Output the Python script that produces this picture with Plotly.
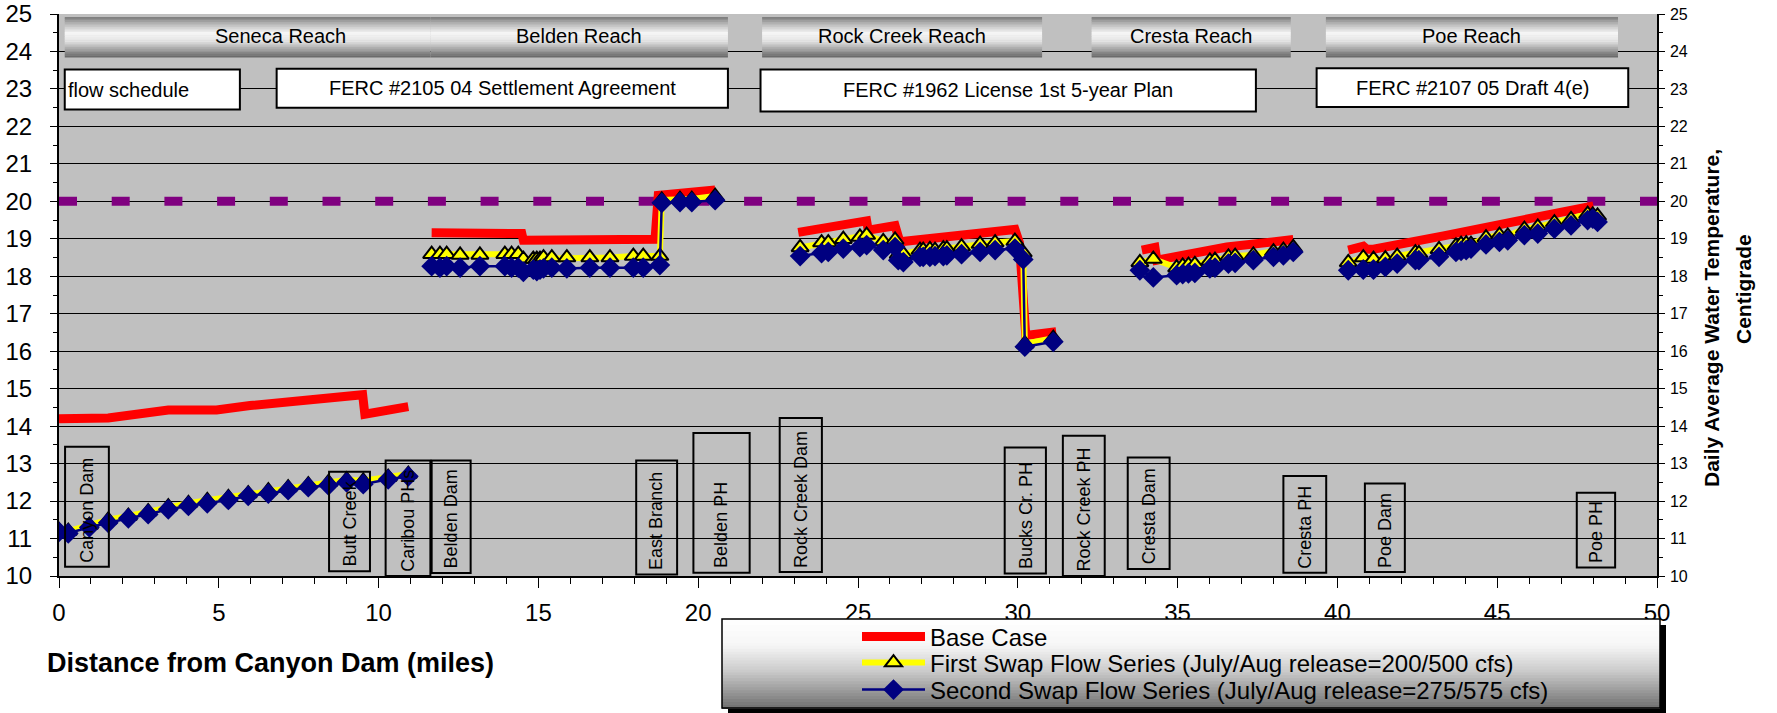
import plotly.graph_objects as go

FONT = "Liberation Sans, Arial, sans-serif"

# ---------------- data ----------------
# Base case (red) - sections separated by None
base_x = [0, 1.54, 3.42, 4.93, 5.98, 9.5, 9.57, 10.93, None,
          11.66, 14.48, 14.53, 18.65, 18.75, 20.53, None,
          23.13, 25.27, 25.32, 26.16, 26.31, 29.91, 30.05, 30.25, 31.2, None,
          33.88, 34.29, 34.35, 36.54, 38.62, None,
          40.34, 40.81, 40.92, 41.13, 43.32, 44.0, 48.01]
base_y = [14.2, 14.22, 14.43, 14.43, 14.55, 14.84, 14.32, 14.52, None,
          19.16, 19.14, 18.96, 18.99, 20.16, 20.3, None,
          19.17, 19.48, 19.23, 19.35, 18.92, 19.25, 18.9, 16.42, 16.52, None,
          18.7, 18.77, 18.43, 18.78, 18.98, None,
          18.7, 18.8, 18.72, 18.72, 19.08, 19.2, 19.88]

# Swap flow series share the same stations
swap_x = [0, 0.29, 0.95, 1.54, 2.17, 2.79, 3.42, 4.05, 4.64, 5.30, 5.92, 6.55, 7.17, 7.80, 8.43, 9.0, 9.52, 10.30, 10.93, None,
          11.66, 11.92, 12.13, 12.55, 13.17, 13.95, 14.16, 14.37, 14.53, 14.84, 14.95, 15.05, 15.16, 15.42, 15.89, 16.61, 17.24, 17.97, 18.28, 18.8,
          18.86, 19.43, 19.8, 20.53, None,
          23.19, 23.86, 24.07, 24.54, 25.06, 25.27, 25.79, 26.16, 26.26, 26.42, 26.94, 27.04, 27.25, 27.41, 27.67, 27.78, 28.24, 28.82, 29.29, 29.91,
          30.17, 30.22, 31.11, None,
          33.82, 34.24, 34.97, 35.16, 35.34, 35.54, 36.01, 36.17, 36.59, 36.8, 37.37, 38.0, 38.31, 38.62, None,
          40.34, 40.81, 41.13, 41.5, 41.87, 42.44, 42.55, 43.18, 43.71, 43.87, 44.03, 44.18, 44.65, 45.07, 45.33, 45.85, 46.27, 46.79, 47.31,
          47.83, 47.99, 48.14]

swap1_y = [11.22, 11.2, 11.36, 11.5, 11.6, 11.72, 11.85, 11.94, 12.02, 12.1, 12.2, 12.28, 12.36, 12.44, 12.5, 12.57, 12.54, 12.64, 12.72, None,
           18.59, 18.59, 18.59, 18.57, 18.57, 18.59, 18.59, 18.59, 18.46, 18.46, 18.46, 18.46, 18.50, 18.50, 18.50, 18.50, 18.50, 18.54, 18.54, 18.54,
           20.04, 20.06, 20.06, 20.14, None,
           18.77, 18.90, 18.90, 18.99, 19.05, 19.10, 18.93, 18.97, 18.59, 18.59, 18.70, 18.70, 18.72, 18.70, 18.74, 18.74, 18.79, 18.86, 18.90, 18.94,
           18.63, 16.2, 16.35, None,
           18.37, 18.46, 18.23, 18.28, 18.30, 18.32, 18.41, 18.43, 18.52, 18.54, 18.57, 18.66, 18.70, 18.77, None,
           18.37, 18.50, 18.46, 18.47, 18.54, 18.63, 18.61, 18.72, 18.81, 18.86, 18.87, 18.86, 19.03, 19.10, 19.08, 19.26, 19.32, 19.43, 19.52,
           19.66, 19.64, 19.61]

swap2_y = [11.18, 11.14, 11.3, 11.42, 11.54, 11.65, 11.78, 11.87, 11.94, 12.03, 12.14, 12.2, 12.29, 12.37, 12.42, 12.5, 12.45, 12.58, 12.66, None,
           18.27, 18.23, 18.27, 18.23, 18.27, 18.27, 18.23, 18.23, 18.12, 18.18, 18.14, 18.18, 18.21, 18.23, 18.21, 18.23, 18.23, 18.23, 18.23, 18.3,
           19.96, 19.98, 19.98, 20.03, None,
           18.54, 18.62, 18.65, 18.74, 18.78, 18.83, 18.70, 18.78, 18.43, 18.38, 18.52, 18.52, 18.52, 18.54, 18.54, 18.56, 18.59, 18.65, 18.70, 18.74,
           18.45, 16.12, 16.25, None,
           18.16, 17.97, 18.03, 18.06, 18.08, 18.09, 18.21, 18.23, 18.34, 18.36, 18.43, 18.52, 18.56, 18.65, None,
           18.16, 18.18, 18.18, 18.25, 18.34, 18.43, 18.43, 18.52, 18.65, 18.68, 18.70, 18.74, 18.85, 18.92, 18.96, 19.10, 19.14, 19.27, 19.36,
           19.50, 19.54, 19.45]

threshold_x = [0, 50]
threshold_y = [20, 20]

series_names = ["Base Case",
                "First Swap Flow Series (July/Aug release=200/500 cfs)",
                "Second Swap Flow Series (July/Aug release=275/575 cfs)"]

# Reach banners
reach_names = ["Seneca Reach", "Belden Reach", "Rock Creek Reach", "Cresta Reach", "Poe Reach"]
reach_start = [0.18, 11.62, 22.0, 32.31, 39.64]
reach_end = [11.62, 20.93, 30.76, 38.54, 48.78]
reach_label_x = [6.93, 16.28, 26.38, 35.43, 44.2]
banner_top, banner_bot = 24.92, 23.85

# Regulatory boxes
reg_texts = ["flow schedule", "FERC #2105 04 Settlement Agreement",
             "FERC #1962 License 1st 5-year Plan", "FERC #2107 05 Draft 4(e)"]
reg_x0 = [0.18, 6.81, 21.95, 39.35]
reg_x1 = [5.66, 20.93, 37.45, 49.1]
reg_y0 = [22.45, 22.5, 22.4, 22.52]
reg_y1 = [23.52, 23.54, 23.52, 23.55]

# Facility labels (vertical)
site_names = ["Canyon Dam", "Butt Creek", "Caribou PHs", "Belden Dam", "East Branch", "Belden PH",
              "Rock Creek Dam", "Bucks Cr. PH", "Rock Creek PH", "Cresta Dam", "Cresta PH", "Poe Dam", "Poe PH"]
site_x0 = [0.19, 8.45, 10.22, 11.66, 18.06, 19.85, 22.55, 29.59, 31.41, 33.44, 38.31, 40.86, 47.49]
site_x1 = [1.56, 9.73, 11.62, 12.88, 19.34, 21.61, 23.87, 30.88, 32.72, 34.75, 39.65, 42.11, 48.69]
site_y0 = [10.25, 10.13, 10.0, 10.08, 10.04, 10.09, 10.11, 10.07, 10.0, 10.19, 10.09, 10.11, 10.23]
site_y1 = [13.45, 12.78, 13.08, 13.08, 13.08, 13.82, 14.22, 13.43, 13.74, 13.16, 12.67, 12.47, 12.22]

# ---------------- figure ----------------
W, H = 1777, 713
ML, MR, MT, MB = 59, 120, 14, 137
PW, PH = W - ML - MR, H - MT - MB


def px_x(X):
    return (X - ML) / PW


def px_y(Y):
    return (H - MB - Y) / PH


def interp(stops, t):
    for (p0, c0), (p1, c1) in zip(stops[:-1], stops[1:]):
        if p0 <= t <= p1:
            f = (t - p0) / (p1 - p0) if p1 > p0 else 0
            c = [round(a + (b - a) * f) for a, b in zip(c0, c1)]
            return "rgb(%d,%d,%d)" % tuple(c)
    c = stops[-1][1]
    return "rgb(%d,%d,%d)" % tuple(c)


fig = go.Figure()

fig.add_trace(go.Scatter(x=threshold_x, y=threshold_y, mode="lines", showlegend=False, hoverinfo="skip",
                         line=dict(color="#800080", width=9, dash="18px,34.7px")))
fig.add_trace(go.Scatter(x=base_x, y=base_y, mode="lines", name=series_names[0], connectgaps=False,
                         legend="legend", line=dict(color="#FF0000", width=9)))
fig.add_trace(go.Scatter(x=swap_x, y=swap1_y, mode="lines+markers", name=series_names[1], connectgaps=False,
                         legend="legend2", line=dict(color="#FFFF00", width=6),
                         marker=dict(symbol="triangle-up", size=15, color="#FFFF00",
                                     line=dict(color="black", width=2))))
fig.add_trace(go.Scatter(x=swap_x, y=swap2_y, mode="lines+markers", name=series_names[2], connectgaps=False,
                         legend="legend3", line=dict(color="#000080", width=2.5),
                         marker=dict(symbol="diamond", size=16, color="#000080",
                                     line=dict(color="#000080", width=0))))
# dummy trace for the right-hand axis
fig.add_trace(go.Scatter(x=[0], y=[threshold_y[0]], yaxis="y2", mode="none", showlegend=False, hoverinfo="skip"))

shapes = []
annotations = []

# banners with vertical gradient
banner_stops = [(0.0, (120, 120, 120)), (0.15, (176, 176, 176)), (0.4, (246, 246, 246)),
                (0.6, (228, 228, 228)), (0.85, (150, 150, 150)), (1.0, (100, 100, 100))]
NS = 24
for s, e in zip(reach_start, reach_end):
    for i in range(NS):
        t = (i + 0.5) / NS
        ya = banner_top - (banner_top - banner_bot) * i / NS
        yb = banner_top - (banner_top - banner_bot) * (i + 1) / NS
        shapes.append(dict(type="rect", xref="x", yref="y", x0=s, x1=e, y0=yb - 0.012, y1=ya,
                           fillcolor=interp(banner_stops, t), line=dict(width=0), layer="above"))
for name, lx in zip(reach_names, reach_label_x):
    annotations.append(dict(x=lx, y=(banner_top + banner_bot) / 2 + 0.03, xref="x", yref="y", text=name,
                            showarrow=False, font=dict(family=FONT, size=20, color="black")))

# regulatory boxes
for txt, x0, x1, y0, y1 in zip(reg_texts, reg_x0, reg_x1, reg_y0, reg_y1):
    shapes.append(dict(type="rect", xref="x", yref="y", x0=x0, x1=x1, y0=y0, y1=y1,
                       fillcolor="white", line=dict(color="black", width=2), layer="above"))
    if txt == "flow schedule":
        annotations.append(dict(x=x0 + 0.05, y=(y0 + y1) / 2, xref="x", yref="y", text=txt, xanchor="left",
                                showarrow=False, font=dict(family=FONT, size=20, color="black")))
    else:
        annotations.append(dict(x=(x0 + x1) / 2, y=(y0 + y1) / 2, xref="x", yref="y", text=txt,
                                showarrow=False, font=dict(family=FONT, size=20, color="black")))

# facility boxes
for name, x0, x1, y0, y1 in zip(site_names, site_x0, site_x1, site_y0, site_y1):
    shapes.append(dict(type="rect", xref="x", yref="y", x0=x0, x1=x1, y0=y0, y1=y1,
                       fillcolor="rgba(0,0,0,0)", line=dict(color="black", width=2), layer="above"))
    annotations.append(dict(x=(x0 + x1) / 2, y=y0 + 0.06, xref="x", yref="y", text=name, textangle=-90,
                            yanchor="bottom", showarrow=False, font=dict(family=FONT, size=18, color="black")))

# legend box (shadow + gradient + border)
LX0, LX1, LY0, LY1 = 722, 1660, 619, 708
shapes.append(dict(type="rect", xref="paper", yref="paper", x0=px_x(LX0 + 6), x1=px_x(LX1 + 6),
                   y0=px_y(LY1 + 6), y1=px_y(LY0 + 6), fillcolor="black", line=dict(width=0), layer="above"))
legend_stops = [(0.0, (255, 255, 255)), (0.3, (246, 246, 246)), (0.6, (200, 200, 200)), (1.0, (112, 112, 112))]
NL = 30
for i in range(NL):
    t = (i + 0.5) / NL
    ya = LY0 + (LY1 - LY0) * i / NL
    yb = LY0 + (LY1 - LY0) * (i + 1) / NL
    shapes.append(dict(type="rect", xref="paper", yref="paper", x0=px_x(LX0), x1=px_x(LX1),
                       y0=px_y(yb + 1.0), y1=px_y(ya), fillcolor=interp(legend_stops, t),
                       line=dict(width=0), layer="above"))
shapes.append(dict(type="rect", xref="paper", yref="paper", x0=px_x(LX0), x1=px_x(LX1),
                   y0=px_y(LY1), y1=px_y(LY0), fillcolor="rgba(0,0,0,0)",
                   line=dict(color="black", width=1.5), layer="above"))

# axis titles
annotations.append(dict(x=px_x(45), y=px_y(663), xref="paper", yref="paper", xanchor="left", yanchor="middle",
                        text="<b>Distance from Canyon Dam (miles)</b>", showarrow=False,
                        font=dict(family=FONT, size=27, color="black")))
annotations.append(dict(x=px_x(1711), y=px_y(318), xref="paper", yref="paper", xanchor="center", yanchor="middle",
                        text="<b>Daily Average Water Temperature,</b>", textangle=-90,
                        showarrow=False, font=dict(family=FONT, size=21, color="black")))
annotations.append(dict(x=px_x(1743), y=px_y(289), xref="paper", yref="paper", xanchor="center", yanchor="middle",
                        text="<b>Centigrade</b>", textangle=-90,
                        showarrow=False, font=dict(family=FONT, size=21, color="black")))


def legend_cfg(row_y):
    return dict(x=px_x(857), y=px_y(row_y), xanchor="left", yanchor="middle", bgcolor="rgba(0,0,0,0)",
                borderwidth=0, font=dict(family=FONT, size=24, color="black"), itemwidth=63,
                tracegroupgap=0)


fig.update_layout(
    width=W, height=H, autosize=False,
    margin=dict(l=ML, r=MR, t=MT, b=MB, pad=0, autoexpand=False),
    paper_bgcolor="white", plot_bgcolor="#C0C0C0",
    font=dict(family=FONT, color="black"),
    shapes=shapes, annotations=annotations,
    showlegend=True,
    legend=legend_cfg(637),
    legend2=legend_cfg(663),
    legend3=legend_cfg(690),
    xaxis=dict(range=[0, 50], dtick=5, tick0=0, showgrid=False, zeroline=False,
               showline=True, linecolor="black", linewidth=2,
               ticks="outside", ticklen=10, tickwidth=1, tickcolor="black", ticklabelstandoff=4,
               tickfont=dict(family=FONT, size=24, color="black"),
               minor=dict(dtick=1, ticks="outside", ticklen=6, tickcolor="black", showgrid=False)),
    yaxis=dict(range=[10, 25], dtick=1, tick0=10, showgrid=True, gridcolor="black", gridwidth=1,
               zeroline=False, showline=True, linecolor="black", linewidth=2,
               ticks="outside", ticklen=7, tickcolor="black", ticklabelstandoff=13,
               tickfont=dict(family=FONT, size=24, color="black"),
               minor=dict(dtick=0.5, ticks="outside", ticklen=4, tickcolor="black", showgrid=False)),
    yaxis2=dict(range=[10, 25], dtick=1, tick0=10, overlaying="y", side="right", showgrid=False,
                zeroline=False, showline=True, linecolor="black", linewidth=1.5,
                ticks="outside", ticklen=6, tickcolor="black", ticklabelstandoff=2,
                tickfont=dict(family=FONT, size=16, color="black"),
                minor=dict(dtick=0.5, ticks="outside", ticklen=4, tickcolor="black", showgrid=False)),
)

fig.write_html("out.html", config={"displayModeBar": False},
               post_script="document.body.style.margin='0px';document.body.style.overflow='hidden';")
